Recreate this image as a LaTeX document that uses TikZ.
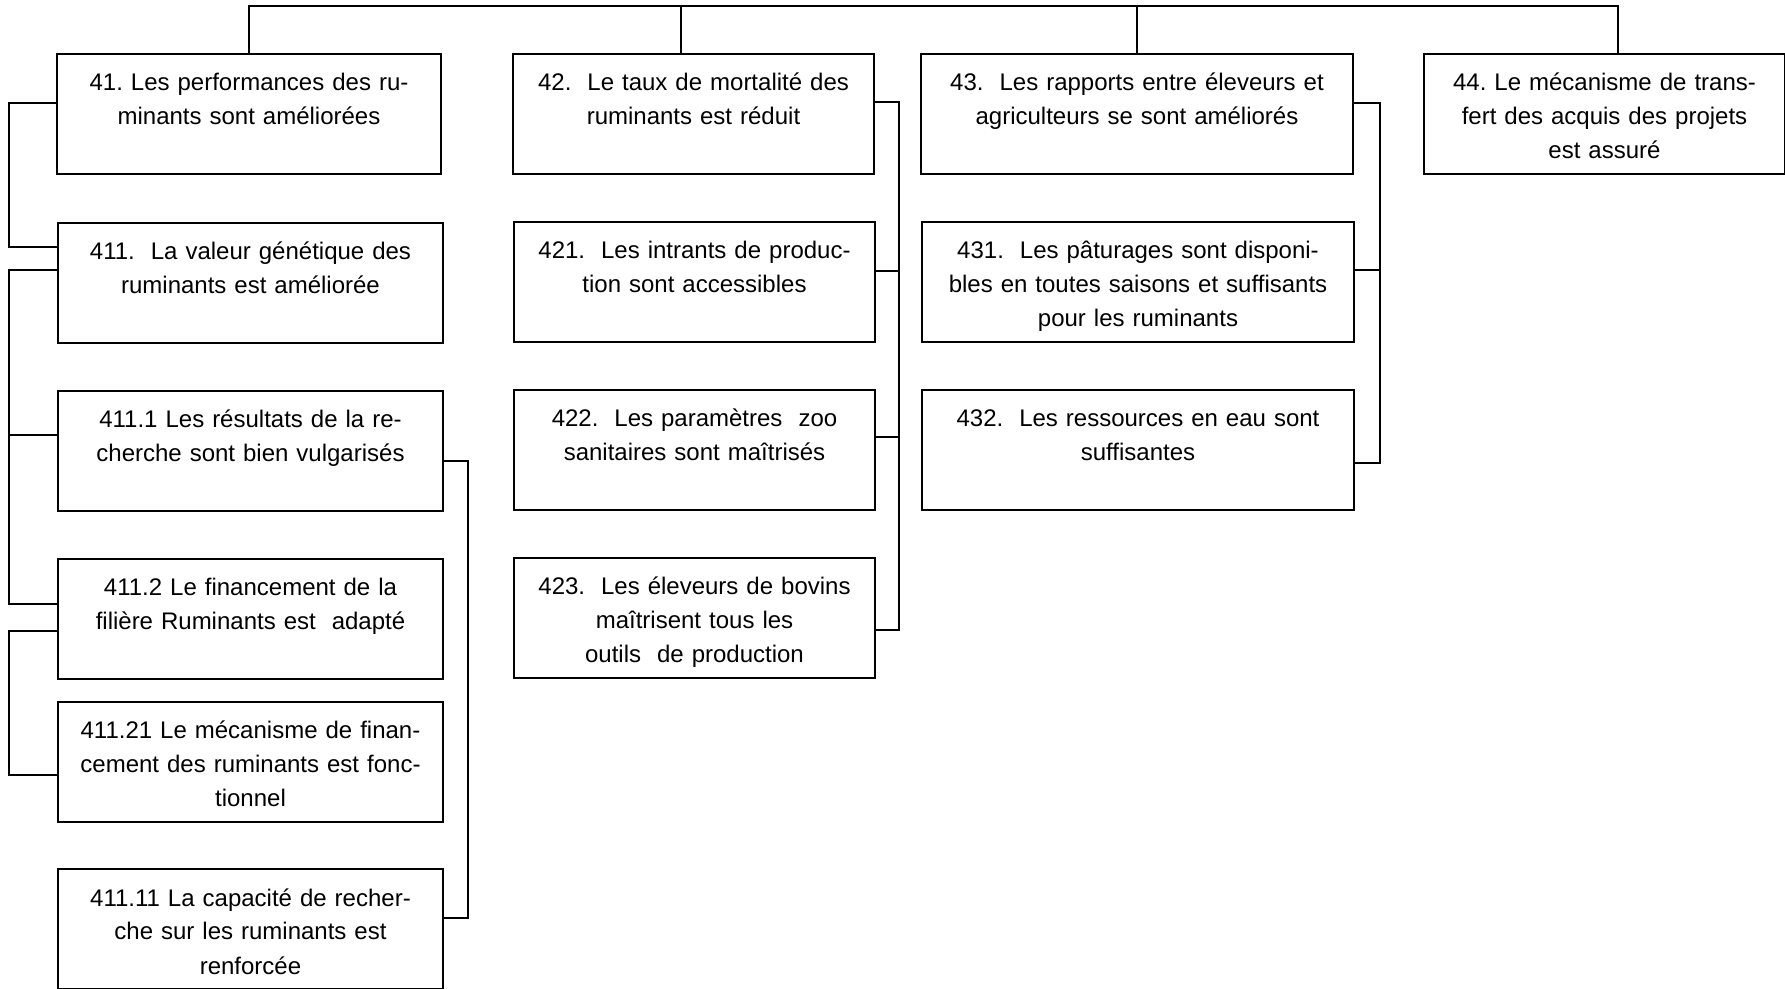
\documentclass[tikz,border=0pt]{standalone}
\usepackage{fontspec}
\setmainfont{Liberation Sans}
\frenchspacing
\begin{document}
\begin{tikzpicture}[x=0.5pt,y=-0.5pt,
        box/.style={draw,line width=1pt,inner sep=0pt,anchor=north west,
            align=center,text width=#1,text height=18.5pt,text depth=41.5pt,
            font=\fontsize{12pt}{17pt}\selectfont},
        link/.style={line width=1pt}]
    \useasboundingbox (0,0) rectangle (1785,989);
    \node[box=192pt] (n41) at (56,53) {41. Les performances des ru-\\minants sont améliorées};
    \node[box=192.5pt] (n411) at (57,222) {411.~ La valeur génétique des\\ruminants est améliorée};
    \node[box=192.5pt] (n4111) at (57,390) {411.1 Les résultats de la re-\\cherche sont bien vulgarisés};
    \node[box=192.5pt] (n4112) at (57,558) {411.2 Le financement de la\\filière Ruminants est~ adapté};
    \node[box=192.5pt] (n41121) at (57,701) {411.21 Le mécanisme de finan-\\cement des ruminants est fonc-\\tionnel};
    \node[box=192.5pt] (n41111) at (57,868) {411.11 La capacité de recher-\\che sur les ruminants est\\renforcée};
    \node[box=180.5pt] (n42) at (512,53) {42.~ Le taux de mortalité des\\ruminants est réduit};
    \node[box=180.5pt] (n421) at (513,221) {421.~ Les intrants de produc-\\tion sont accessibles};
    \node[box=180.5pt] (n422) at (513,389) {422.~ Les paramètres~ zoo\\sanitaires sont maîtrisés};
    \node[box=180.5pt] (n423) at (513,557) {423.~ Les éleveurs de bovins\\maîtrisent tous les\\outils~ de production};
    \node[box=216pt] (n43) at (920,53) {43.~ Les rapports entre éleveurs et\\agriculteurs se sont améliorés};
    \node[box=216pt] (n431) at (921,221) {431.~ Les pâturages sont disponi-\\bles en toutes saisons et suffisants\\pour les ruminants};
    \node[box=216pt] (n432) at (921,389) {432.~ Les ressources en eau sont\\suffisantes};
    \node[box=180.5pt] (n44) at (1423,53) {44. Le mécanisme de trans-\\fert des acquis des projets\\est assuré};
    \coordinate (bus) at (0,6);
    \coordinate (v42) at ([xshift=-6.25pt]n42.north);
    \coordinate (v44) at ([xshift=6.5pt]n44.north);
    \draw[link] (n41.north) |- (bus -| v44) -- (v44);
    \draw[link] (v42) -- (v42 |- bus);
    \draw[link] (n43.north) -- (n43.north |- bus);
    \draw[link] ([yshift=5.5pt]n41.west) -- ++(-47,0) |- ([yshift=17.75pt]n411.west);
    \draw[link] ([yshift=6.25pt]n411.west) -- ++(-48,0) |- ([yshift=7.25pt]n4112.west);
    \draw[link] ([yshift=7.75pt]n4111.west) -- ++(-48,0);
    \draw[link] ([yshift=-6pt]n4112.west) -- ++(-48,0) |- ([yshift=-6.25pt]n41121.west);
    \draw[link] ([yshift=-5.25pt]n4111.east) -- ++(24,0) |- ([yshift=5.75pt]n41111.east);
    \draw[link] ([yshift=6pt]n42.east) -- ++(24,0) |- ([yshift=-5.85pt]n423.east);
    \draw[link] ([yshift=5.65pt]n421.east) -- ++(23,0);
    \draw[link] ([yshift=6.25pt]n422.east) -- ++(23,0);
    \draw[link] ([yshift=5.65pt]n43.east) -- ++(26,0) |- ([yshift=-6.35pt]n432.east);
    \draw[link] ([yshift=6.15pt]n431.east) -- ++(25,0);
\end{tikzpicture}
\end{document}
